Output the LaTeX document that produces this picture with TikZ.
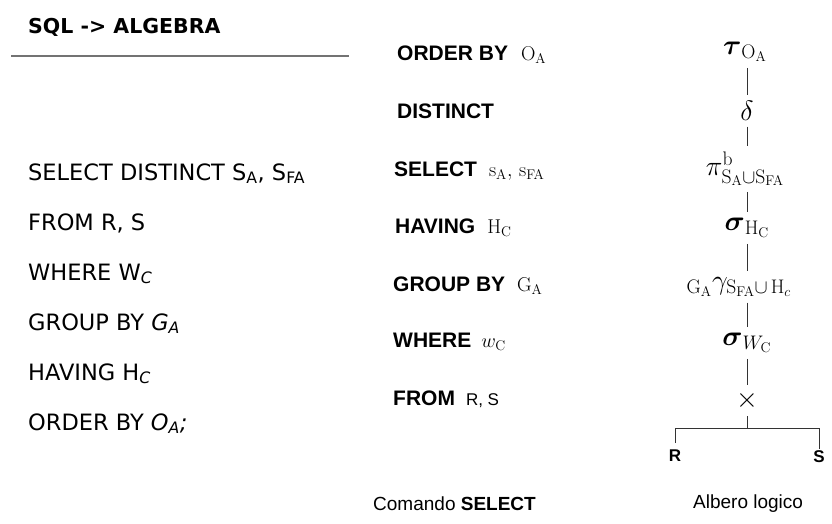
\RequirePackage{fix-cm}
\documentclass[tikz,border=0pt]{standalone}
\usepackage{amsmath}
\usepackage[no-math]{fontspec}
\setmainfont{Liberation Sans}
\newfontfamily\comic{DejaVu Sans}
\begin{document}
\begin{tikzpicture}[x=1pt,y=-1pt,
  comictxt/.style={anchor=base west,inner sep=0pt,font=\comic\fontsize{22.5}{25}\selectfont},
  midtxt/.style={anchor=base west,inner sep=0pt,font=\bfseries\fontsize{21}{24}\selectfont},
  treenode/.style={inner sep=1pt,outer sep=0pt,font=\fontsize{28}{32}\selectfont},
  capt/.style={anchor=base west,inner sep=0pt,font=\fontsize{19}{22}\selectfont},
  leaf/.style={inner sep=1pt,font=\bfseries\fontsize{17}{20}\selectfont},
  conn/.style={draw=black!80,line width=0.9pt,shorten <=5pt,shorten >=5pt},
  plain/.style={draw=black!80,line width=0.9pt}]
\useasboundingbox (0,0) rectangle (832,523);
\newcommand{\argt}[1]{{\fontsize{20}{22}\selectfont$#1$}}
% title
\node[anchor=base west,inner sep=0pt,font=\comic\bfseries\fontsize{20.5}{24}\selectfont] (title) at (28,33) {SQL -> ALGEBRA};
\coordinate (hl) at (11,56);
\coordinate (hr) at (349,56);
\draw[draw=black!55,line width=1.2pt] (hl) -- (hr);
% left SQL
\node[comictxt] (l1) at (28,180) {SELECT DISTINCT S\textsubscript{A}, S\textsubscript{FA}};
\node[comictxt] (l2) at (28,230) {FROM R, S};
\node[comictxt] (l3) at (28,280) {WHERE W\textsubscript{\itshape C}};
\node[comictxt] (l4) at (28,330) {GROUP BY \textit{G}\textsubscript{\itshape A}};
\node[comictxt] (l5) at (28,380) {HAVING H\textsubscript{\itshape C}};
\node[comictxt] (l6) at (28,430) {ORDER BY \textit{O}\textsubscript{\itshape A}\textit{;}};
% middle
\node[midtxt] (m1) at (397,60) {ORDER BY\hspace{13pt}\argt{\mathrm{O}_\mathrm{A}}};
\node[midtxt] (m2) at (397,118) {DISTINCT};
\node[midtxt] (m3) at (394,176) {SELECT\hspace{12pt}\argt{\mathrm{s}_\mathrm{A},\,\mathrm{s}_\mathrm{FA}}};
\node[midtxt] (m4) at (395,233) {HAVING\hspace{12pt}\argt{\mathrm{H}_\mathrm{C}}};
\node[midtxt] (m5) at (393,291) {GROUP BY\hspace{12pt}\argt{\mathrm{G}_\mathrm{A}}};
\node[midtxt] (m6) at (393,347) {WHERE\hspace{10pt}\argt{w_\mathrm{C}}};
\node[midtxt] (m7) at (393,405) {FROM\hspace{11pt}{\mdseries\fontsize{17}{20}\selectfont R, S}};
% tree
\coordinate (j) at (747,428);
\node[treenode] (t) at (745,52) {$\boldsymbol{\tau}_{\mathrm{O}_\mathrm{A}}$};
\node[treenode] (d) at (747,111) {$\delta$};
\node[treenode] (p) at (745,169) {$\pi^{\mathrm{b}}_{\mathrm{S}_\mathrm{A}\cup\mathrm{S}_\mathrm{FA}}$};
\node[treenode] (sh) at (747,228) {$\boldsymbol{\sigma}_{\mathrm{H}_\mathrm{C}}$};
\node[treenode] (g) at (739,287) {${}_{\mathrm{G}_\mathrm{A}}\gamma_{\mathrm{S}_\mathrm{FA}\cup\,\mathrm{H}_c}$};
\node[treenode] (sw) at (747,343) {$\boldsymbol{\sigma}_{W_\mathrm{C}}$};
\node[treenode] (x) at (747,400) {$\times$};
\node[leaf,anchor=north] (R) at (675,449) {R};
\node[leaf,anchor=north] (S) at (819,449) {S};
\draw[conn] (t.south -| j) -- (d.north -| j);
\draw[conn] (d.south -| j) -- (p.north -| j);
\draw[conn] (p.south -| j) -- (sh.north -| j);
\draw[conn] (sh.south -| j) -- (g.north -| j);
\draw[conn] (g.south -| j) -- (sw.north -| j);
\draw[conn] (sw.south -| j) -- (x.north -| j);
\draw[plain,shorten <=6pt] (x) -- (j);
\draw[plain,shorten <=6pt] (R.north) -- (R.north |- j) -- (S.north |- j) -- (S.north);
% captions
\node[capt] (c1) at (373,510) {Comando \textbf{SELECT}};
\node[capt] (c2) at (693,508) {Albero logico};
\end{tikzpicture}
\end{document}
